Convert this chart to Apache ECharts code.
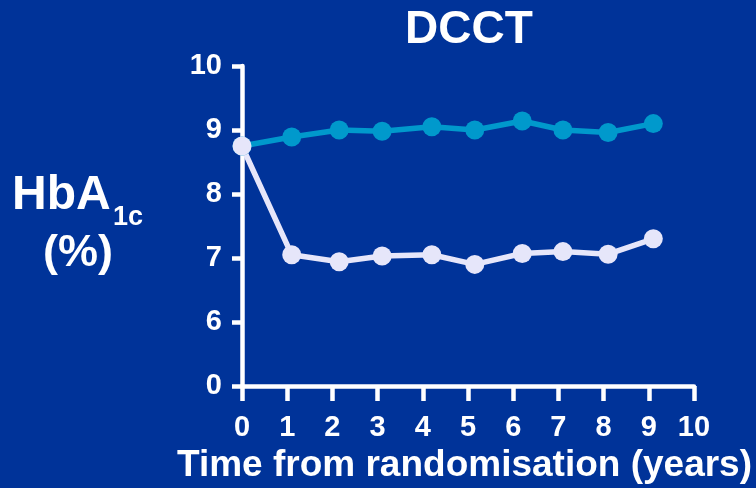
<!DOCTYPE html>
<html>
<head>
<meta charset="utf-8">
<script src="https://cdn.jsdelivr.net/npm/echarts@6/dist/echarts.min.js"></script>
<style>
  html, body { margin: 0; padding: 0; background: #003399; }
  #chart { width: 756px; height: 488px; }
</style>
</head>
<body>
<div id="chart"></div>
<script>
  // years since randomisation (points sit a little right of the ticks)
  const years = [0, 1.1, 2.15, 3.1, 4.2, 5.15, 6.2, 7.1, 8.1, 9.1]
  // conventional treatment, HbA1c %
  const conventional = [8.75, 8.89, 9.0, 8.98, 9.05, 9.0, 9.14, 9.0, 8.96, 9.1]
  // intensive treatment, HbA1c %
  const intensive = [8.75, 7.05, 6.94, 7.03, 7.05, 6.9, 7.07, 7.1, 7.06, 7.3]
  // y axis is broken between 0 and 6
  const yTickLabels = [0, 6, 7, 8, 9, 10]

  const font = '"Liberation Sans", Arial, sans-serif'

  // map real HbA1c value onto the broken axis (0 -> 0, 6..10 -> 1..5)
  const toAxis = (v) => (v >= 6 ? v - 5 : v / 6)

  const makeSeries = (name, values, color) => ({
    name,
    type: 'line',
    data: years.map((x, i) => [x, toAxis(values[i])]),
    symbol: 'circle',
    symbolSize: 19,
    lineStyle: { color, width: 5.5 },
    itemStyle: { color },
    animation: false
  })

  const chart = echarts.init(document.getElementById('chart'))
  chart.setOption({
    backgroundColor: '#003399',
    grid: { left: 242, right: 62, top: 66, bottom: 102, outerBoundsMode: 'none' },
    xAxis: {
      type: 'value',
      min: 0,
      max: 10,
      interval: 1,
      name: 'Time from randomisation (years)',
      nameLocation: 'middle',
      nameGap: 61,
      nameTextStyle: {
        color: '#fff',
        fontSize: 37,
        fontWeight: 'bold',
        fontFamily: font,
        padding: [0, 7, 0, 0]
      },
      axisLine: { show: true, lineStyle: { color: '#fff', width: 4.5 } },
      axisTick: { show: true, length: 15, lineStyle: { color: '#fff', width: 4.5 } },
      axisLabel: { color: '#fff', fontSize: 29, fontWeight: 'bold', fontFamily: font, margin: 27 },
      splitLine: { show: false }
    },
    yAxis: {
      type: 'value',
      min: 0,
      max: 5,
      interval: 1,
      axisLine: { show: true, lineStyle: { color: '#fff', width: 4.5 } },
      axisTick: { show: true, length: 10, lineStyle: { color: '#fff', width: 4.5 } },
      axisLabel: {
        color: '#fff',
        fontSize: 29,
        fontWeight: 'bold',
        fontFamily: font,
        margin: 20,
        formatter: (v) => yTickLabels[Math.round(v)]
      },
      splitLine: { show: false }
    },
    graphic: [
      {
        type: 'text',
        x: 469,
        y: 30,
        style: {
          text: 'DCCT',
          fill: '#fff',
          font: 'bold 46px ' + font,
          textAlign: 'center',
          textVerticalAlign: 'middle'
        }
      },
      {
        type: 'text',
        x: 12,
        y: 196,
        style: {
          text: 'HbA',
          fill: '#fff',
          font: 'bold 48px ' + font,
          textAlign: 'left',
          textVerticalAlign: 'middle'
        }
      },
      {
        type: 'text',
        x: 113,
        y: 218,
        style: {
          text: '1c',
          fill: '#fff',
          font: 'bold 27px ' + font,
          textAlign: 'left',
          textVerticalAlign: 'middle'
        }
      },
      {
        type: 'text',
        x: 78,
        y: 254,
        style: {
          text: '(%)',
          fill: '#fff',
          font: 'bold 45px ' + font,
          textAlign: 'center',
          textVerticalAlign: 'middle'
        }
      }
    ],
    series: [
      makeSeries('Conventional', conventional, '#0099cc'),
      makeSeries('Intensive', intensive, '#e6e6fa')
    ]
  })
</script>
</body>
</html>
